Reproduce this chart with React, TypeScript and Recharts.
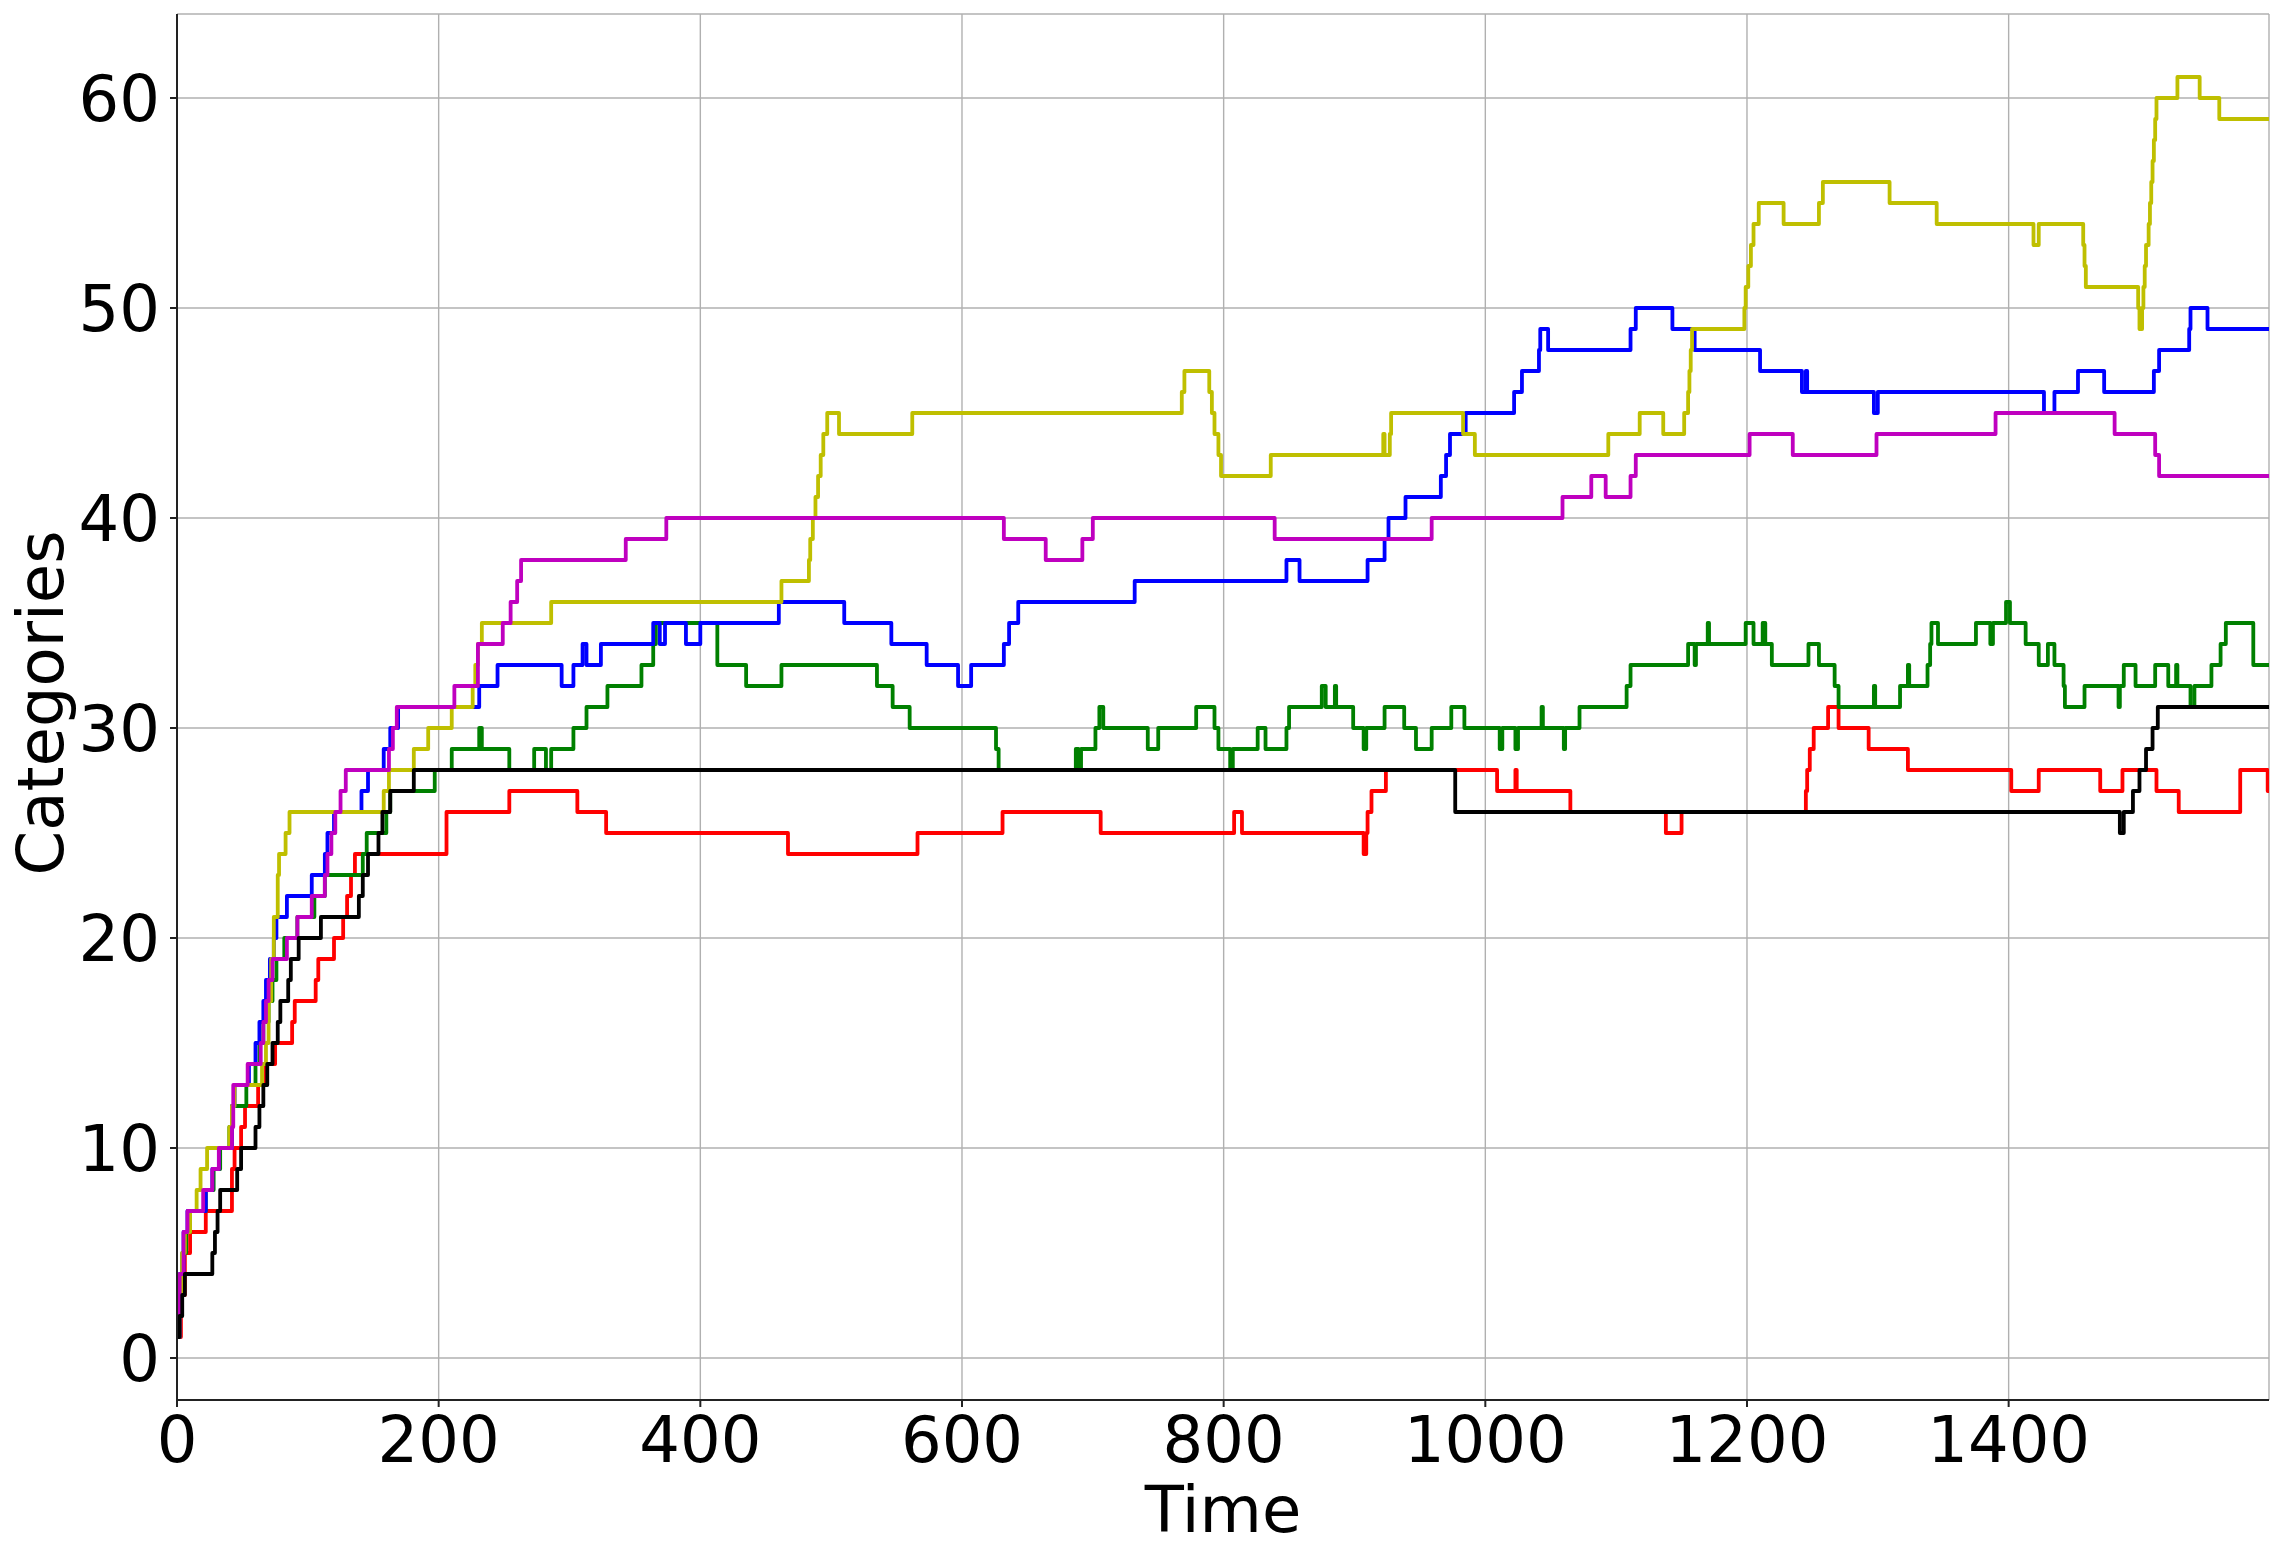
import React from 'react';
import { LineChart, Line, XAxis, YAxis, CartesianGrid } from 'recharts';

// Step change points: [time, categories]
const T_END = 1599;
const xTicks = [0, 200, 400, 600, 800, 1000, 1200, 1400];
const yTicks = [0, 10, 20, 30, 40, 50, 60];

const redSeries: [number, number][] = [
  [0, 1], [3, 3], [6, 5], [10, 6], [22, 7], [42, 9], [44, 10], [49, 11], [52, 12], [62, 13], [68, 14], [75, 15],
  [88, 16], [90, 17], [106, 18], [108, 19], [120, 20], [127, 21], [130, 22], [133, 23], [136, 24], [206, 26],
  [254, 27], [306, 26], [328, 25], [467, 24], [566, 25], [631, 26], [706, 25], [808, 26], [814, 25], [907, 24],
  [909, 25], [910, 26], [913, 27], [924, 28], [1009, 27], [1023, 28], [1024, 27], [1065, 26], [1138, 25],
  [1150, 26], [1245, 27], [1246, 28], [1248, 29], [1251, 30], [1262, 31], [1270, 30], [1293, 29], [1323, 28],
  [1402, 27], [1423, 28], [1470, 27], [1487, 28], [1513, 27], [1530, 26], [1577, 28], [1598, 27],
];

const greenSeries: [number, number][] = [
  [0, 1], [2, 3], [4, 5], [7, 6], [10, 7], [22, 8], [28, 9], [33, 10], [40, 11], [42, 12], [53, 13], [60, 14],
  [63, 15], [66, 16], [70, 17], [73, 18], [76, 19], [82, 20], [92, 21], [105, 22], [113, 23], [142, 24],
  [145, 25], [160, 26], [163, 27], [197, 28], [210, 29], [231, 30], [233, 29], [254, 28], [273, 29], [282, 28],
  [286, 29], [303, 30], [313, 31], [329, 32], [355, 33], [364, 34], [366, 35], [413, 33], [435, 32], [462, 33],
  [535, 32], [547, 31], [560, 30], [626, 29], [628, 28], [687, 29], [689, 28], [691, 29], [702, 30], [705, 31],
  [708, 30], [742, 29], [750, 30], [779, 31], [793, 30], [796, 29], [805, 28], [807, 29], [826, 30], [832, 29],
  [848, 30], [850, 31], [875, 32], [878, 31], [885, 32], [886, 31], [899, 30], [907, 29], [909, 30], [923, 31],
  [938, 30], [947, 29], [959, 30], [974, 31], [984, 30], [1011, 29], [1013, 30], [1023, 29], [1025, 30],
  [1043, 31], [1044, 30], [1060, 29], [1061, 30], [1072, 31], [1108, 32], [1111, 33], [1155, 34], [1160, 33],
  [1161, 34], [1170, 35], [1171, 34], [1199, 35], [1205, 34], [1212, 35], [1214, 34], [1219, 33], [1247, 34],
  [1255, 33], [1267, 32], [1270, 31], [1297, 32], [1298, 31], [1317, 32], [1323, 33], [1324, 32], [1338, 33],
  [1340, 34], [1341, 35], [1346, 34], [1375, 35], [1386, 34], [1388, 35], [1398, 36], [1401, 35], [1413, 34],
  [1423, 33], [1430, 34], [1435, 33], [1442, 32], [1443, 31], [1458, 32], [1484, 31], [1485, 32], [1488, 33],
  [1497, 32], [1512, 33], [1522, 32], [1528, 33], [1529, 32], [1539, 31], [1542, 32], [1555, 33], [1562, 34],
  [1566, 35], [1587, 33],
];

const blueSeries: [number, number][] = [
  [0, 1], [2, 4], [5, 6], [8, 7], [22, 8], [27, 9], [32, 10], [42, 12], [44, 13], [55, 14], [60, 15], [63, 16],
  [66, 17], [68, 18], [71, 19], [74, 20], [76, 21], [84, 22], [103, 23], [113, 24], [115, 25], [120, 26],
  [141, 27], [146, 28], [158, 29], [163, 30], [169, 31], [231, 32], [245, 33], [294, 32], [303, 33], [310, 34],
  [313, 33], [324, 34], [364, 35], [369, 34], [373, 35], [389, 34], [400, 35], [460, 36], [510, 35], [546, 34],
  [573, 33], [597, 32], [607, 33], [632, 34], [636, 35], [643, 36], [732, 37], [848, 38], [858, 37], [910, 38],
  [923, 39], [926, 40], [939, 41], [966, 42], [970, 43], [973, 44], [985, 45], [1022, 46], [1028, 47],
  [1041, 48], [1042, 49], [1048, 48], [1111, 49], [1115, 50], [1143, 49], [1160, 48], [1210, 47], [1242, 46],
  [1245, 47], [1246, 46], [1297, 45], [1300, 46], [1427, 45], [1435, 46], [1453, 47], [1473, 46], [1511, 47],
  [1515, 48], [1538, 49], [1539, 50], [1552, 49],
];

const yellowSeries: [number, number][] = [
  [0, 1], [2, 3], [4, 5], [6, 6], [10, 7], [15, 8], [18, 9], [23, 10], [40, 11], [42, 12], [44, 13], [65, 14],
  [68, 15], [70, 17], [72, 19], [74, 21], [77, 23], [78, 24], [83, 25], [86, 26], [158, 27], [162, 28],
  [181, 29], [192, 30], [210, 31], [226, 32], [228, 33], [230, 34], [233, 35], [286, 36], [462, 37], [483, 38],
  [484, 39], [486, 40], [488, 41], [490, 42], [492, 43], [494, 44], [497, 45], [506, 44], [562, 45], [768, 46],
  [770, 47], [789, 46], [791, 45], [793, 44], [796, 43], [798, 42], [836, 43], [922, 44], [923, 43], [927, 44],
  [928, 45], [983, 44], [992, 43], [1094, 44], [1118, 45], [1136, 44], [1152, 45], [1155, 46], [1156, 47],
  [1157, 48], [1158, 49], [1198, 50], [1199, 51], [1201, 52], [1203, 53], [1205, 54], [1209, 55], [1228, 54],
  [1255, 55], [1258, 56], [1309, 55], [1345, 54], [1419, 53], [1423, 54], [1457, 53], [1458, 52], [1459, 51],
  [1499, 50], [1500, 49], [1502, 50], [1503, 51], [1504, 52], [1505, 53], [1507, 54], [1508, 55], [1509, 56],
  [1510, 57], [1511, 58], [1512, 59], [1513, 60], [1529, 61], [1546, 60], [1561, 59],
];

const magentaSeries: [number, number][] = [
  [0, 1], [2, 4], [5, 6], [8, 7], [20, 8], [27, 9], [32, 10], [42, 11], [43, 13], [54, 14], [64, 15], [66, 16],
  [68, 17], [70, 18], [73, 19], [84, 20], [92, 21], [103, 22], [113, 23], [115, 24], [118, 25], [121, 26],
  [125, 27], [129, 28], [162, 29], [165, 30], [168, 31], [212, 32], [230, 34], [249, 35], [255, 36], [260, 37],
  [263, 38], [343, 39], [374, 40], [632, 39], [664, 38], [692, 39], [700, 40], [839, 39], [959, 40], [1059, 41],
  [1081, 42], [1092, 41], [1111, 42], [1115, 43], [1202, 44], [1235, 43], [1299, 44], [1390, 45], [1481, 44],
  [1512, 43], [1515, 42],
];

const blackSeries: [number, number][] = [
  [0, 1], [2, 2], [4, 3], [6, 4], [27, 5], [29, 6], [31, 7], [33, 8], [46, 9], [49, 10], [60, 11], [63, 12],
  [66, 13], [69, 14], [73, 15], [77, 16], [79, 17], [85, 18], [87, 19], [93, 20], [110, 21], [139, 22],
  [142, 23], [146, 24], [154, 25], [157, 26], [163, 27], [181, 28], [977, 26], [1485, 25], [1488, 26],
  [1495, 27], [1500, 28], [1505, 29], [1510, 30], [1514, 31],
];

const seriesList = [
  { name: 'r', points: redSeries, color: '#ff0000' },
  { name: 'g', points: greenSeries, color: '#008000' },
  { name: 'b', points: blueSeries, color: '#0000ff' },
  { name: 'y', points: yellowSeries, color: '#bfbf00' },
  { name: 'm', points: magentaSeries, color: '#bf00bf' },
  { name: 'k', points: blackSeries, color: '#000000' },
];

const toData = (pts: [number, number][]) => {
  const rows = pts.map(([t, v]) => ({ t, v }));
  rows.push({ t: T_END, v: pts[pts.length - 1][1] });
  return rows;
};

const FONT = 'DejaVu Sans';
const AXIS_COLOR = '#222222';

const TimeLabel = (props: any) => {
  const vb = props.viewBox || {};
  const cx = (vb.x ?? 0) + (vb.width ?? 0) / 2;
  const y = (vb.y ?? 0) + 132;
  return (
    <text x={cx} y={y} textAnchor="middle" fontFamily={FONT} fontSize={64} fill="#000">
      Time
    </text>
  );
};

const CatLabel = (props: any) => {
  const vb = props.viewBox || {};
  const cy = (vb.y ?? 0) + (vb.height ?? 0) / 2 - 4;
  const x = 63;
  return (
    <text x={x} y={cy} transform={`rotate(-90, ${x}, ${cy})`} textAnchor="middle" fontFamily={FONT} fontSize={64} fill="#000">
      Categories
    </text>
  );
};

export default function App() {
  return (
    <div style={{ position: 'absolute', left: 0, top: 0, width: 2284, height: 1558, background: '#fff' }}>
      <LineChart width={2284} height={1558} margin={{ top: 14, right: 15, bottom: 0, left: 0 }}>
        <CartesianGrid stroke="#b0b0b0" strokeWidth={1.4} />
        <XAxis
          type="number"
          dataKey="t"
          domain={[0, T_END]}
          ticks={xTicks}
          interval={0}
          allowDataOverflow
          height={158}
          tickSize={7}
          tickMargin={10}
          axisLine={{ stroke: AXIS_COLOR, strokeWidth: 2 }}
          tickLine={{ stroke: AXIS_COLOR, strokeWidth: 2 }}
          tick={{ fontFamily: FONT, fontSize: 64, fill: '#000' }}
          label={<TimeLabel />}
        />
        <XAxis
          xAxisId="top"
          orientation="top"
          type="number"
          dataKey="t"
          domain={[0, T_END]}
          height={0}
          tick={false}
          tickLine={false}
          axisLine={{ stroke: AXIS_COLOR, strokeWidth: 2 }}
        />
        <YAxis
          type="number"
          domain={[-2, 64]}
          ticks={yTicks}
          interval={0}
          allowDataOverflow
          width={177}
          tickSize={7}
          tickMargin={10}
          axisLine={{ stroke: AXIS_COLOR, strokeWidth: 2 }}
          tickLine={{ stroke: AXIS_COLOR, strokeWidth: 2 }}
          tick={{ fontFamily: FONT, fontSize: 64, fill: '#000' }}
          label={<CatLabel />}
        />
        <YAxis
          yAxisId="right"
          orientation="right"
          type="number"
          domain={[-2, 64]}
          width={0}
          tick={false}
          tickLine={false}
          axisLine={{ stroke: AXIS_COLOR, strokeWidth: 2 }}
        />
        {seriesList.map((s) => (
          <Line
            key={s.name}
            data={toData(s.points)}
            dataKey="v"
            type="stepAfter"
            stroke={s.color}
            strokeWidth={3.8}
            strokeLinejoin="round"
            dot={false}
            activeDot={false}
            isAnimationActive={false}
          />
        ))}
      </LineChart>
    </div>
  );
}
